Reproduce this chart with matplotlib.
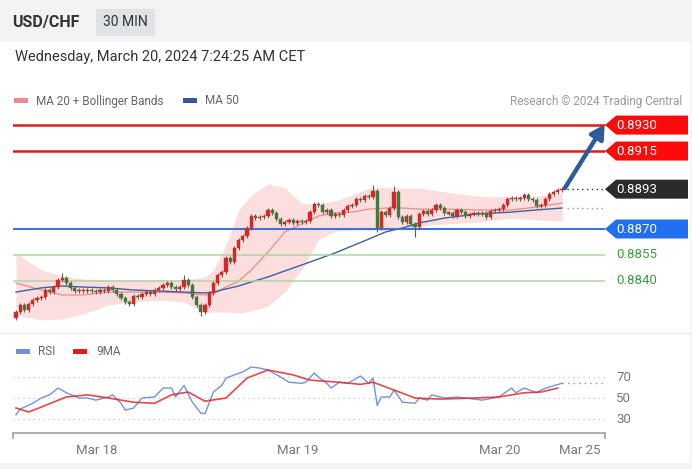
import matplotlib
matplotlib.use('Agg')
import matplotlib.pyplot as plt
import matplotlib.transforms as mtransforms
from matplotlib.patches import Rectangle, Polygon
from matplotlib.lines import Line2D

plt.rcParams['font.family'] = ['Roboto', 'DejaVu Sans']

# ---------------- data ----------------
first_open = 0.88186
closes = [
    0.88221, 0.88262, 0.88233, 0.88267, 0.88290, 0.88302, 0.88308, 0.88348, 0.88337, 0.88365,
    0.88406, 0.88417, 0.88388, 0.88360, 0.88342, 0.88348, 0.88342, 0.88348, 0.88342, 0.88337,
    0.88348, 0.88342, 0.88365, 0.88348, 0.88325, 0.88302, 0.88279, 0.88267, 0.88313, 0.88308,
    0.88325, 0.88337, 0.88325, 0.88348, 0.88360, 0.88377, 0.88388, 0.88365, 0.88354, 0.88365,
    0.88406, 0.88377, 0.88308, 0.88262, 0.88221, 0.88262, 0.88331, 0.88388, 0.88435, 0.88452,
    0.88533, 0.88510, 0.88590, 0.88637, 0.88660, 0.88706, 0.88775, 0.88763, 0.88769, 0.88775,
    0.88810, 0.88792, 0.88758, 0.88729, 0.88740, 0.88752, 0.88735, 0.88746, 0.88740, 0.88746,
    0.88798, 0.88844, 0.88838, 0.88798, 0.88810, 0.88775, 0.88787, 0.88781, 0.88810, 0.88833,
    0.88838, 0.88873, 0.88867, 0.88890, 0.88885, 0.88919, 0.88706, 0.88798, 0.88781, 0.88821,
    0.88913, 0.88769, 0.88740, 0.88775, 0.88729, 0.88712, 0.88787, 0.88804, 0.88787, 0.88810,
    0.88838, 0.88821, 0.88792, 0.88792, 0.88775, 0.88810, 0.88798, 0.88775, 0.88787, 0.88792,
    0.88787, 0.88792, 0.88769, 0.88804, 0.88810, 0.88815, 0.88838, 0.88873, 0.88879, 0.88873,
    0.88879, 0.88896, 0.88873, 0.88867, 0.88833, 0.88838, 0.88873, 0.88902, 0.88913, 0.88925,
    0.88931,
]
wick = 0.00013
hi_extra = {11: 0.88446, 40: 0.88435, 85: 0.88954, 90: 0.88948}
lo_extra = {44: 0.88198, 86: 0.88683, 95: 0.88654}

ind_idx = [0, 6, 11, 16, 22, 28, 34, 40, 45, 47, 50, 53, 56, 60, 64, 68, 72, 76, 80, 84,
           88, 92, 96, 102, 110, 118, 124, 130]
ma20 = [0.88388, 0.88348, 0.88319, 0.88319, 0.88336, 0.88336, 0.88336, 0.88331, 0.88319, 0.88325,
        0.88365, 0.88400, 0.88463, 0.88567, 0.88683, 0.88729, 0.88775, 0.88792, 0.88798, 0.88815,
        0.88821, 0.88821, 0.88815, 0.88815, 0.88810, 0.88810, 0.88827, 0.88850]
bb_up = [0.88562, 0.88463, 0.88429, 0.88412, 0.88406, 0.88406, 0.88406, 0.88406, 0.88423, 0.88463,
         0.88608, 0.88810, 0.88896, 0.88960, 0.88937, 0.88850, 0.88844, 0.88862, 0.88896, 0.88937,
         0.88942, 0.88937, 0.88937, 0.88913, 0.88890, 0.88885, 0.88890, 0.88908]
bb_lo = [0.88204, 0.88175, 0.88181, 0.88210, 0.88261, 0.88279, 0.88290, 0.88279, 0.88215, 0.88221,
         0.88221, 0.88215, 0.88227, 0.88256, 0.88336, 0.88463, 0.88637, 0.88688, 0.88694, 0.88694,
         0.88694, 0.88700, 0.88717, 0.88729, 0.88740, 0.88763, 0.88752, 0.88746]
ma50 = [0.88336, 0.88360, 0.88371, 0.88365, 0.88360, 0.88348, 0.88342, 0.88336, 0.88331, 0.88336,
        0.88354, 0.88371, 0.88394, 0.88423, 0.88458, 0.88492, 0.88527, 0.88562, 0.88602, 0.88642,
        0.88683, 0.88706, 0.88735, 0.88763, 0.88787, 0.88798, 0.88810, 0.88821]

rsi_idx = [0, 1, 4, 6, 8, 10, 12, 15, 17, 19, 22, 23, 25, 26, 28, 30, 33, 35, 37, 38,
           40, 42, 44, 45, 47, 49, 50, 52, 54, 56, 58, 60, 63, 65, 68, 69, 71, 72, 74, 75,
           77, 79, 82, 84, 85, 86, 87, 89, 90, 92, 95, 96, 98, 99, 102, 105, 107, 111, 115, 118,
           119, 121, 124, 125, 127, 130]
rsi_val = [34, 39.5, 45, 50, 53, 59.5, 55, 50, 50, 48, 51, 53, 45, 38.5, 40.5, 50, 51, 59.5, 59.5, 51,
           62, 46, 35.7, 35, 55.7, 62, 69, 72, 74.8, 79.5, 78.5, 76.7, 70, 65, 64, 65, 73.8, 70, 64, 59.5,
           65, 64, 71, 64, 69, 43, 51, 51, 57.6, 46, 45, 50, 48, 53, 50, 51, 50, 48, 51, 59.5,
           55, 59.5, 55, 57.6, 60.5, 64]
rsima_idx = [0, 3, 6, 12, 17, 22, 28, 33, 37, 41, 45, 50, 55, 60, 66, 70, 77, 82, 85, 90,
             95, 101, 109, 115, 121, 125, 129]
rsima_val = [40.5, 36.7, 41.4, 51, 53, 50, 46, 45, 53, 55.7, 47, 50, 69, 76.7, 72, 67, 65, 63, 65, 57.6,
             50, 49, 50, 51, 55, 55.7, 59.5]
rsi_levels = [30, 50, 70]

res_levels = [0.8930, 0.8915]
last_price = 0.8893
sup_level = 0.8870
minor_levels = [0.8855, 0.8840]
target_price = 0.8930

date_ticks = [19.3, 67.1, 115.2, 134.3]
date_labels = ['Mar 18', 'Mar 19', 'Mar 20', 'Mar 25']

# ---------------- figure ----------------
W, H = 692, 469
fig = plt.figure(figsize=(W / 100, H / 100), dpi=100, facecolor='#f3f3f3')


def fx(px):
    return px / W


def fy(py):
    return 1 - py / H


# white body
fig.add_artist(Rectangle((0, fy(463)), fx(690), fy(42) - fy(463), transform=fig.transFigure,
                         fc='white', ec='none', zorder=0))
fig.add_artist(Line2D([0, fx(690)], [fy(333), fy(333)], transform=fig.transFigure,
                      color='#ececec', lw=1))

# header
fig.text(fx(12), fy(22), 'USD/CHF', weight='bold', size=11.5, color='#333333', va='center')
fig.add_artist(Rectangle((fx(96), fy(36)), fx(155) - fx(96), fy(9) - fy(36), transform=fig.transFigure,
                         fc='#dfe2e7', ec='none'))
fig.text(fx(125.5), fy(22.5), '30 MIN', size=10, color='#333333', va='center', ha='center')
fig.text(fx(15), fy(57), 'Wednesday, March 20, 2024 7:24:25 AM CET', size=10.5, color='#333333',
         va='center')

# legend main
fig.add_artist(Rectangle((fx(14), fy(103.5)), fx(14), fy(98.5) - fy(103.5), transform=fig.transFigure,
                         fc='#f08a8a', ec='none'))
fig.text(fx(36), fy(101), 'MA 20 + Bollinger Bands', size=8.5, color='#666666', va='center')
fig.add_artist(Rectangle((fx(183), fy(103.5)), fx(14), fy(98.5) - fy(103.5), transform=fig.transFigure,
                         fc='#2f5a96', ec='none'))
fig.text(fx(205), fy(101), 'MA 50', size=8.5, color='#666666', va='center')
fig.text(fx(682), fy(101), 'Research \u00a9 2024 Trading Central', size=8.5, color='#999999',
         va='center', ha='right')

# legend RSI
fig.add_artist(Rectangle((fx(16), fy(353.5)), fx(14), fy(348.5) - fy(353.5), transform=fig.transFigure,
                         fc='#6f8fd8', ec='none'))
fig.text(fx(38), fy(351), 'RSI', size=8.5, color='#666666', va='center')
fig.add_artist(Rectangle((fx(73), fy(353.5)), fx(14), fy(348.5) - fy(353.5), transform=fig.transFigure,
                         fc='#e01b1b', ec='none'))
fig.text(fx(96), fy(351), '9MA', size=8.5, color='#666666', va='center')

# ---------------- main axes ----------------
xl = (-3 / 4.2, 589 / 4.2)
ax = fig.add_axes([fx(13), fy(330), fx(605) - fx(13), fy(110) - fy(330)])
ax.set_xlim(*xl)
ax.set_ylim(0.88117, 0.89387)
ax.axis('off')

# bollinger + MAs
ax.fill_between(ind_idx, bb_lo, bb_up, color='#fcdede', lw=0, zorder=1)
ax.plot(ind_idx, ma20, color='#f08a8a', lw=0.9, zorder=2)
ax.plot(ind_idx, ma50, color='#3a629c', lw=1.0, zorder=2)

# levels
for lv in res_levels:
    ax.axhline(lv, color='#d91e1e', lw=1.8, zorder=3)
ax.axhline(sup_level, color='#3d74d6', lw=1.5, zorder=3)
for lv in minor_levels:
    ax.axhline(lv, color='#aed4a4', lw=1.1, zorder=3)

# candles
opens = [first_open] + closes[:-1]
for i, (o, c) in enumerate(zip(opens, closes)):
    up = c >= o
    col = '#cf2a27' if up else '#3c7b39'
    hi = hi_extra.get(i, max(o, c) + wick)
    lo = lo_extra.get(i, min(o, c) - wick)
    ax.vlines(i, lo, hi, color='#6a5a5a', lw=0.8, zorder=4)
    body = max(abs(c - o), 0.00008)
    mid = (o + c) / 2
    ax.bar(i, body, bottom=mid - body / 2, width=0.72, color=col, edgecolor=col, lw=0.3, zorder=5)

n = len(closes)
ax.hlines(last_price, n + 0.2, xl[1], colors='#333333', lw=1, linestyles=(0, (1, 2.5)), zorder=3)
ax.hlines(ma50[-1], n + 0.2, xl[1], colors='#999999', lw=1, linestyles=(0, (1, 2.5)), zorder=3)

# target arrow
ax.annotate('', xy=(xl[1] - 0.1, target_price + 0.00004), xytext=(n - 0.3, last_price + 0.00007),
            arrowprops=dict(arrowstyle='-|>,head_length=0.8,head_width=0.45', color='#2b5c9e',
                            lw=3.2, shrinkA=0, shrinkB=0), zorder=6, annotation_clip=False)

# price tags
fig.canvas.draw()
ident = mtransforms.IdentityTransform()


def tag(price, fc, txt_col='white', boxed=True):
    yd = ax.transData.transform((0, price))[1]
    if boxed:
        pts = [(605, yd), (616, yd + 9.5), (688, yd + 9.5), (688, yd - 9.5), (616, yd - 9.5)]
        fig.add_artist(Polygon(pts, closed=True, transform=ident, fc=fc, ec='none'))
    fig.text(fx(616), yd / H, f'{price:.4f}', size=9.5, color=txt_col, va='center', ha='left')


for lv in res_levels:
    tag(lv, '#ff0a0a')
tag(last_price, '#2b2b2b')
tag(sup_level, '#1f6ff0')
for lv in minor_levels:
    tag(lv, None, txt_col='#3f9a3f', boxed=False)

# ---------------- RSI axes ----------------
ax2 = fig.add_axes([fx(13), fy(433), fx(605) - fx(13), fy(360) - fy(433)])
ax2.set_xlim(*xl)
ax2.set_ylim(16.7, 86.2)
for s in ['top', 'right', 'left']:
    ax2.spines[s].set_visible(False)
ax2.spines['bottom'].set_color('#a8a8a8')
ax2.spines['bottom'].set_linewidth(1.3)
ax2.set_yticks([])
for lv in rsi_levels:
    ax2.axhline(lv, color='#c4c4c4', lw=0.9, linestyle=(0, (1, 3)))
ax2.plot(rsi_idx, rsi_val, color='#7393dc', lw=1.0, zorder=3)
ax2.plot(rsima_idx, rsima_val, color='#e02a2a', lw=1.2, alpha=0.85, zorder=4)
ax2.hlines(rsi_val[-1], rsi_idx[-1], xl[1], colors='#7393dc', lw=1, linestyles=(0, (1, 3)))
ax2.set_xticks(date_ticks)
ax2.set_xticklabels(date_labels, size=9.5, color='#777777')
ax2.tick_params(axis='x', length=0, pad=8)
for xa in [0, 1]:
    ax2.plot([xa, xa], [0, -0.07], transform=ax2.transAxes, color='#a8a8a8', lw=1.3, clip_on=False)
tr = mtransforms.blended_transform_factory(ax2.transAxes, ax2.transData)
for lv in rsi_levels:
    ax2.text(1.0 + 11 / 592, lv, str(lv), transform=tr, size=9.5, color='#777777', va='center')

fig.savefig('out.png', dpi=100, facecolor=fig.get_facecolor())
